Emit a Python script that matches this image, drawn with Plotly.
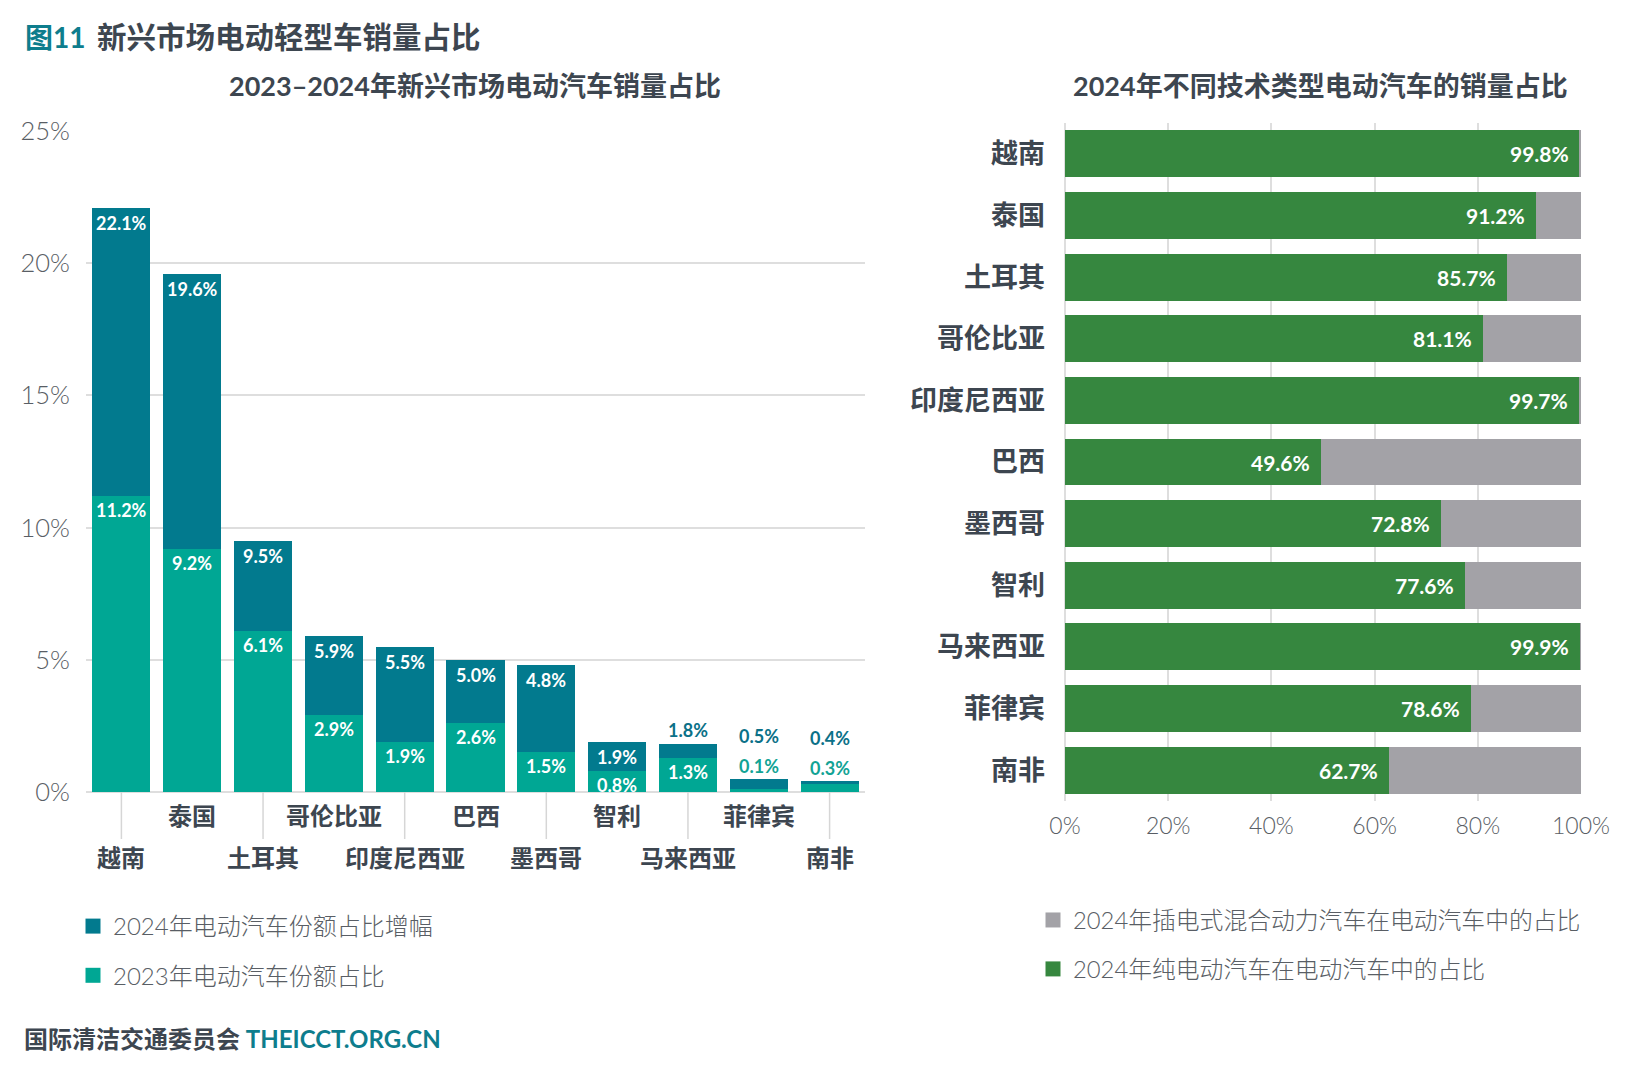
import plotly.graph_objects as go

# ---------------- data ----------------
countries = ["越南", "泰国", "土耳其", "哥伦比亚", "印度尼西亚", "巴西", "墨西哥", "智利", "马来西亚", "菲律宾", "南非"]
share_2024 = [22.1, 19.6, 9.5, 5.9, 5.5, 5.0, 4.8, 1.9, 1.8, 0.5, 0.4]
share_2023 = [11.2, 9.2, 6.1, 2.9, 1.9, 2.6, 1.5, 0.8, 1.3, 0.1, 0.3]
bev_share = [99.8, 91.2, 85.7, 81.1, 99.7, 49.6, 72.8, 77.6, 99.9, 78.6, 62.7]
left_ticks = [0, 5, 10, 15, 20, 25]
right_ticks = [0, 20, 40, 60, 80, 100]

title_num = "图11"
title_main = "新兴市场电动轻型车销量占比"
sub_left = "2023–2024年新兴市场电动汽车销量占比"
sub_right = "2024年不同技术类型电动汽车的销量占比"
name_inc = "2024年电动汽车份额占比增幅"
name_2023 = "2023年电动汽车份额占比"
name_phev = "2024年插电式混合动力汽车在电动汽车中的占比"
name_bev = "2024年纯电动汽车在电动汽车中的占比"
footer_org = "国际清洁交通委员会"
footer_url = "THEICCT.ORG.CN"

increase = [round(a - b, 1) for a, b in zip(share_2024, share_2023)]
phev_share = [round(100 - v, 1) for v in bev_share]

# ---------------- style ----------------
W, H = 1638, 1080
FONT = "Lato, 'Noto Sans CJK SC', sans-serif"
DARK_BLUE = "#027a8e"
TEAL = "#00a794"
GREEN = "#36873f"
GREY = "#a3a2a7"
TXT = "#3d4650"
TICK_TXT = "#595e65"
GRID = "#dedede"
BRAND = "#0e7d8d"


def px(x):
    return x / W


def py(y):
    return 1 - y / H


fig = go.Figure()

fig.add_trace(go.Bar(x=countries, y=share_2023, name=name_2023, marker_color=TEAL,
                     marker_line_width=0, width=0.82, xaxis="x", yaxis="y",
                     showlegend=False, hoverinfo="skip"))
fig.add_trace(go.Bar(x=countries, y=increase, name=name_inc, marker_color=DARK_BLUE,
                     marker_line_width=0, width=0.82, xaxis="x", yaxis="y",
                     showlegend=False, hoverinfo="skip"))
fig.add_trace(go.Bar(y=countries, x=bev_share, name=name_bev, orientation="h",
                     marker_color=GREEN, marker_line_width=0, width=0.76,
                     xaxis="x2", yaxis="y2", showlegend=False, hoverinfo="skip"))
fig.add_trace(go.Bar(y=countries, x=phev_share, name=name_phev, orientation="h",
                     marker_color=GREY, marker_line_width=0, width=0.76,
                     xaxis="x2", yaxis="y2", showlegend=False, hoverinfo="skip"))

# legend entries (square swatches)
legend_items = [
    (name_inc, DARK_BLUE, "legend", "x", "y", 1),
    (name_2023, TEAL, "legend", "x", "y", 2),
    (name_phev, GREY, "legend2", "x2", "y2", 1),
    (name_bev, GREEN, "legend2", "x2", "y2", 2),
]
for nm, col, lg, xa, ya, rk in legend_items:
    fig.add_trace(go.Scatter(x=[None], y=[None], mode="markers", name=nm,
                             marker=dict(symbol="square", size=15, color=col),
                             xaxis=xa, yaxis=ya, legend=lg, legendgroup=nm,
                             legendrank=rk, showlegend=True, hoverinfo="skip"))

ann = []
shapes = []

# titles
ann.append(dict(text=f"<b>{title_num}</b>", x=px(23), y=py(37), xref="paper", yref="paper",
                xanchor="left", yanchor="middle", showarrow=False,
                font=dict(family=FONT, size=28, color=BRAND)))
ann.append(dict(text=f"<b>{title_main}</b>", x=px(95), y=py(37), xref="paper", yref="paper",
                xanchor="left", yanchor="middle", showarrow=False,
                font=dict(family=FONT, size=29.5, color=TXT)))
ann.append(dict(text=f"<b>{sub_left}</b>", x=px(475), y=py(86), xref="paper", yref="paper",
                xanchor="center", yanchor="middle", showarrow=False,
                font=dict(family=FONT, size=27, color=TXT)))
ann.append(dict(text=f"<b>{sub_right}</b>", x=px(1320), y=py(86), xref="paper", yref="paper",
                xanchor="center", yanchor="middle", showarrow=False,
                font=dict(family=FONT, size=27, color=TXT)))

# left category labels (two staggered rows) + leader lines
for i, c in enumerate(countries):
    lower = (i % 2 == 0)
    ann.append(dict(text=f"<b>{c}</b>", x=c, y=py(857 if lower else 815), xref="x", yref="paper",
                    xanchor="center", yanchor="middle", showarrow=False,
                    font=dict(family=FONT, size=24, color=TXT)))
    if lower:
        shapes.append(dict(type="line", xref="x", yref="paper", x0=c, x1=c,
                           y0=py(792), y1=py(839), line=dict(color="#d6d6d6", width=1.5)))

# left value labels
lab_font = 18
for i, c in enumerate(countries):
    tot, base, inc = share_2024[i], share_2023[i], increase[i]
    inc_inside = inc >= 1.0
    base_inside = base >= 0.5
    if inc_inside:
        ann.append(dict(text=f"<b>{tot:.1f}%</b>", x=c, y=tot, xref="x", yref="y",
                        xanchor="center", yanchor="top", yshift=-2, showarrow=False,
                        font=dict(family=FONT, size=lab_font, color="white")))
    if base_inside:
        ann.append(dict(text=f"<b>{base:.1f}%</b>", x=c, y=base, xref="x", yref="y",
                        xanchor="center", yanchor="top", yshift=-1, showarrow=False,
                        font=dict(family=FONT, size=lab_font, color="white")))
    if not inc_inside:
        shift = 1 if base_inside else 30
        if not base_inside:
            ann.append(dict(text=f"<b>{base:.1f}%</b>", x=c, y=tot, xref="x", yref="y",
                            xanchor="center", yanchor="bottom", yshift=0, showarrow=False,
                            font=dict(family=FONT, size=lab_font, color="#12a395")))
        ann.append(dict(text=f"<b>{tot:.1f}%</b>", x=c, y=tot, xref="x", yref="y",
                        xanchor="center", yanchor="bottom", yshift=shift, showarrow=False,
                        font=dict(family=FONT, size=lab_font, color="#0b7188")))

# right value labels
for c, v in zip(countries, bev_share):
    ann.append(dict(text=f"<b>{v:.1f}%</b>", x=v, y=c, xref="x2", yref="y2",
                    xanchor="right", yanchor="middle", xshift=-9, showarrow=False,
                    font=dict(family=FONT, size=21, color="white")))

# footer
ann.append(dict(text=f"<b>{footer_org} <span style='color:{BRAND}'>{footer_url}</span></b>",
                x=px(22), y=py(1038), xref="paper", yref="paper", xanchor="left",
                yanchor="middle", showarrow=False,
                font=dict(family=FONT, size=24, color=TXT)))

fig.update_layout(
    width=W, height=H,
    margin=dict(l=0, r=0, t=0, b=0, autoexpand=False),
    paper_bgcolor="white", plot_bgcolor="white",
    barmode="stack", bargap=0,
    font=dict(family=FONT, color=TXT),
    annotations=ann, shapes=shapes,
    xaxis=dict(domain=[px(86), px(865)], type="category", range=[-0.5, 10.5],
               showticklabels=False, showgrid=False, zeroline=False, showline=False,
               fixedrange=True, anchor="y", automargin=False),
    yaxis=dict(domain=[py(792), py(131)], range=[0, 25], tickvals=left_ticks,
               ticktext=[f"{v}%" for v in left_ticks], showgrid=True, gridcolor=GRID,
               gridwidth=1.5, zeroline=True, zerolinecolor=GRID, zerolinewidth=1.5,
               showline=False, ticks="", ticklabelstandoff=15,
               tickfont=dict(family=FONT, size=25.5, color=TICK_TXT, weight=300),
               fixedrange=True, anchor="x", automargin=False),
    xaxis2=dict(domain=[px(1065), px(1581)], range=[0, 100], tickvals=right_ticks,
                ticktext=[f"{v}%" for v in right_ticks], showgrid=True, gridcolor=GRID,
                gridwidth=1.5, zeroline=True, zerolinecolor=GRID, zerolinewidth=1.5,
                showline=False, ticks="", ticklabelstandoff=9,
                tickfont=dict(family=FONT, size=23, color=TICK_TXT, weight=300),
                fixedrange=True, anchor="y2", automargin=False),
    yaxis2=dict(domain=[py(801), py(123)], type="category", autorange="reversed",
                showgrid=False, zeroline=False, showline=False, ticks="",
                ticklabelstandoff=19,
                tickfont=dict(family=FONT, size=27, color=TXT, weight="bold"),
                fixedrange=True, anchor="x2", automargin=False),
    legend=dict(x=px(73), y=py(904), xanchor="left", yanchor="top",
                traceorder="grouped", tracegroupgap=15,
                font=dict(family=FONT, size=24, color=TICK_TXT, weight=300),
                bgcolor="rgba(0,0,0,0)"),
    legend2=dict(x=px(1033), y=py(898), xanchor="left", yanchor="top",
                 traceorder="grouped", tracegroupgap=15,
                 font=dict(family=FONT, size=23.8, color=TICK_TXT, weight=300),
                 bgcolor="rgba(0,0,0,0)"),
    showlegend=True,
)

fig.write_html(
    "out.html",
    config={"displayModeBar": False},
    post_script="document.body.style.margin='0';",
)
